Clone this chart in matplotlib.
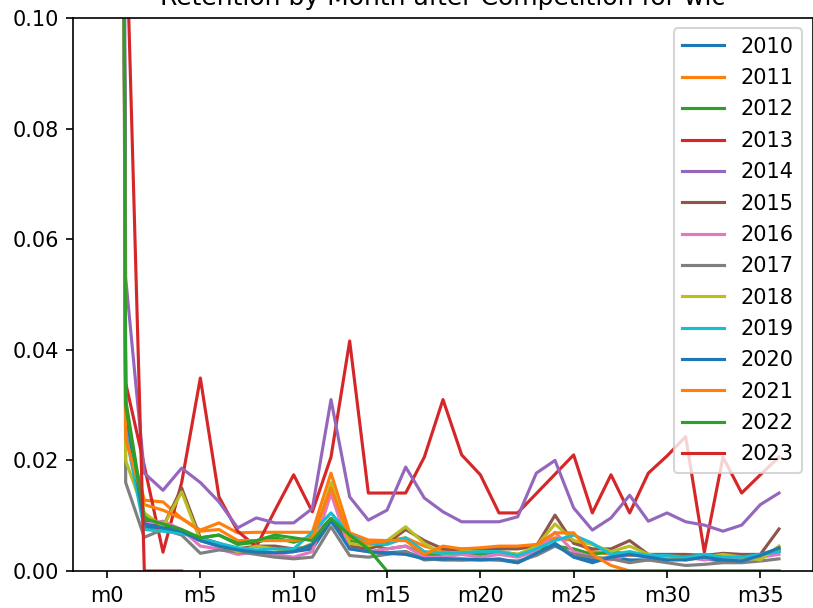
import numpy as np
import matplotlib
matplotlib.use("Agg")
import matplotlib.pyplot as plt

months = [f"m{i}" for i in range(37)]
nan = np.nan

y2010 = [1.0, 0.027, 0.008, 0.0075, 0.007, 0.0055, 0.0045, 0.0038, 0.0035, 0.0032, 0.0035, 0.004, 0.009, 0.0045, 0.0035, 0.0033, 0.0035, 0.0022, 0.002, 0.002, 0.0022, 0.002, 0.0015, 0.003, 0.005, 0.0028, 0.002, 0.0025, 0.002, 0.002, 0.002, 0.0025, 0.0022, 0.0018, 0.002, 0.0025, 0.0035]
y2011 = [1.0, 0.026, 0.0128, 0.0125, 0.0095, 0.0074, 0.0087, 0.0069, 0.007, 0.007, 0.007, 0.007, 0.0177, 0.0069, 0.0056, 0.0055, 0.006, 0.0045, 0.0035, 0.004, 0.004, 0.0042, 0.0042, 0.0045, 0.006, 0.0055, 0.0035, 0.003, 0.0028, 0.003, 0.0028, 0.0028, 0.003, 0.0025, 0.0025, 0.0028, 0.0035]
y2012 = [1.0, 0.031, 0.01, 0.008, 0.0072, 0.006, 0.0065, 0.0048, 0.0052, 0.006, 0.0052, 0.0062, 0.0095, 0.0055, 0.0048, 0.004, 0.0045, 0.003, 0.003, 0.0032, 0.003, 0.0035, 0.003, 0.004, 0.0045, 0.004, 0.003, 0.0035, 0.003, 0.0028, 0.0025, 0.0028, 0.0025, 0.0028, 0.0025, 0.003, 0.004]
y2013 = [1.0, 0.034, 0.019, 0.0034, 0.016, 0.0349, 0.0134, 0.0072, 0.0044, 0.011, 0.0174, 0.0107, 0.0206, 0.0416, 0.0141, 0.0141, 0.0141, 0.0206, 0.031, 0.021, 0.0174, 0.0105, 0.0105, 0.014, 0.0175, 0.021, 0.0105, 0.0174, 0.0105, 0.0177, 0.0208, 0.0243, 0.0034, 0.0206, 0.0141, 0.0174, 0.0206]
y2014 = [1.0, 0.053, 0.0177, 0.0146, 0.0186, 0.016, 0.0125, 0.0078, 0.0096, 0.0087, 0.0087, 0.0113, 0.031, 0.0134, 0.0092, 0.011, 0.0188, 0.0132, 0.0107, 0.0089, 0.0089, 0.0089, 0.0098, 0.0177, 0.02, 0.0114, 0.0074, 0.0096, 0.0137, 0.009, 0.0105, 0.0089, 0.0083, 0.0072, 0.0083, 0.012, 0.0141]
y2015 = [1.0, 0.03, 0.009, 0.008, 0.015, 0.006, 0.005, 0.004, 0.0045, 0.0045, 0.004, 0.0045, 0.0095, 0.0045, 0.004, 0.005, 0.0075, 0.0055, 0.004, 0.0038, 0.0038, 0.004, 0.004, 0.0045, 0.0101, 0.005, 0.004, 0.004, 0.0055, 0.003, 0.003, 0.003, 0.0028, 0.0032, 0.003, 0.003, 0.0076]
y2016 = [1.0, 0.027, 0.0085, 0.009, 0.0075, 0.0045, 0.004, 0.003, 0.0035, 0.003, 0.0025, 0.0035, 0.014, 0.004, 0.0035, 0.004, 0.0045, 0.0025, 0.0025, 0.003, 0.0025, 0.003, 0.0025, 0.0035, 0.007, 0.0035, 0.0025, 0.002, 0.003, 0.0025, 0.002, 0.0025, 0.002, 0.0025, 0.002, 0.0025, 0.003]
y2017 = [1.0, 0.016, 0.0061, 0.0075, 0.0065, 0.0032, 0.0038, 0.0035, 0.003, 0.0025, 0.0022, 0.0025, 0.008, 0.0028, 0.0025, 0.003, 0.0035, 0.002, 0.0022, 0.002, 0.002, 0.002, 0.0018, 0.0028, 0.0045, 0.003, 0.0025, 0.0022, 0.0015, 0.002, 0.0015, 0.001, 0.0012, 0.0015, 0.0015, 0.0018, 0.0022]
y2018 = [1.0, 0.02, 0.0105, 0.008, 0.0143, 0.0055, 0.005, 0.0035, 0.0045, 0.004, 0.0035, 0.005, 0.016, 0.005, 0.0045, 0.0055, 0.008, 0.005, 0.003, 0.0035, 0.0035, 0.0035, 0.003, 0.0045, 0.0085, 0.0055, 0.0048, 0.0035, 0.0045, 0.003, 0.0025, 0.002, 0.0025, 0.003, 0.0025, 0.002, 0.0045]
y2019 = [1.0, 0.025, 0.0075, 0.0072, 0.0068, 0.006, 0.005, 0.0042, 0.0038, 0.004, 0.004, 0.007, 0.0105, 0.0065, 0.005, 0.0048, 0.006, 0.0035, 0.0032, 0.0033, 0.0035, 0.0035, 0.0028, 0.004, 0.0055, 0.0065, 0.005, 0.003, 0.0035, 0.0028, 0.0028, 0.0025, 0.003, 0.0025, 0.0025, 0.003, 0.0035]
y2020 = [1.0, 0.029, 0.0085, 0.0078, 0.0072, 0.0055, 0.0045, 0.0038, 0.0034, 0.0033, 0.0035, 0.0048, 0.0092, 0.004, 0.0035, 0.0032, 0.003, 0.0022, 0.0022, 0.0022, 0.002, 0.0022, 0.0015, 0.0032, 0.0048, 0.0025, 0.0015, 0.0025, 0.003, 0.0025, 0.002, 0.002, 0.0025, 0.002, 0.0018, 0.0028, 0.0042]
y2021 = [1.0, 0.024, 0.012, 0.011, 0.0095, 0.0072, 0.0075, 0.0055, 0.0055, 0.0055, 0.0055, 0.006, 0.015, 0.006, 0.005, 0.0055, 0.0055, 0.003, 0.0045, 0.004, 0.0042, 0.0045, 0.0045, 0.0048, 0.0069, 0.0069, 0.003, 0.001, 0.0, 0.0, 0.0, 0.0, 0.0, 0.0, 0.0, 0.0, 0.0]
y2022 = [1.0, 0.03, 0.0095, 0.0085, 0.0075, 0.006, 0.0065, 0.005, 0.0055, 0.0065, 0.006, 0.0055, 0.0095, 0.0065, 0.004, 0.0, 0.0, 0.0, 0.0, 0.0, 0.0, 0.0, 0.0, 0.0, 0.0, 0.0, 0.0, 0.0, 0.0, 0.0, 0.0, 0.0, 0.0, 0.0, 0.0, 0.0, 0.0]
y2023 = [1.0, 0.12, 0.0, 0.0, 0.0] + [nan] * 32

years = ["2010", "2011", "2012", "2013", "2014", "2015", "2016", "2017",
         "2018", "2019", "2020", "2021", "2022", "2023"]
series = [y2010, y2011, y2012, y2013, y2014, y2015, y2016, y2017,
          y2018, y2019, y2020, y2021, y2022, y2023]

DPI = 150
fig = plt.figure(figsize=(813 / DPI, 608 / DPI), dpi=DPI)
ax = fig.add_axes([73.4 / 813, 37 / 608, 739.2 / 813, 553 / 608])
x = np.arange(len(months))
for yr, vals in zip(years, series):
    ax.plot(x, vals, label=yr)
ax.set_ylim(0, 0.10)
ax.set_xlim(-1.8, 37.8)
ax.set_xticks(x[::5])
ax.set_xticklabels(months[::5])
ax.set_title("Retention by Month after Competition for wic")
ax.legend(loc="upper right", labelspacing=0.545)
fig.savefig("out.png", dpi=DPI)
